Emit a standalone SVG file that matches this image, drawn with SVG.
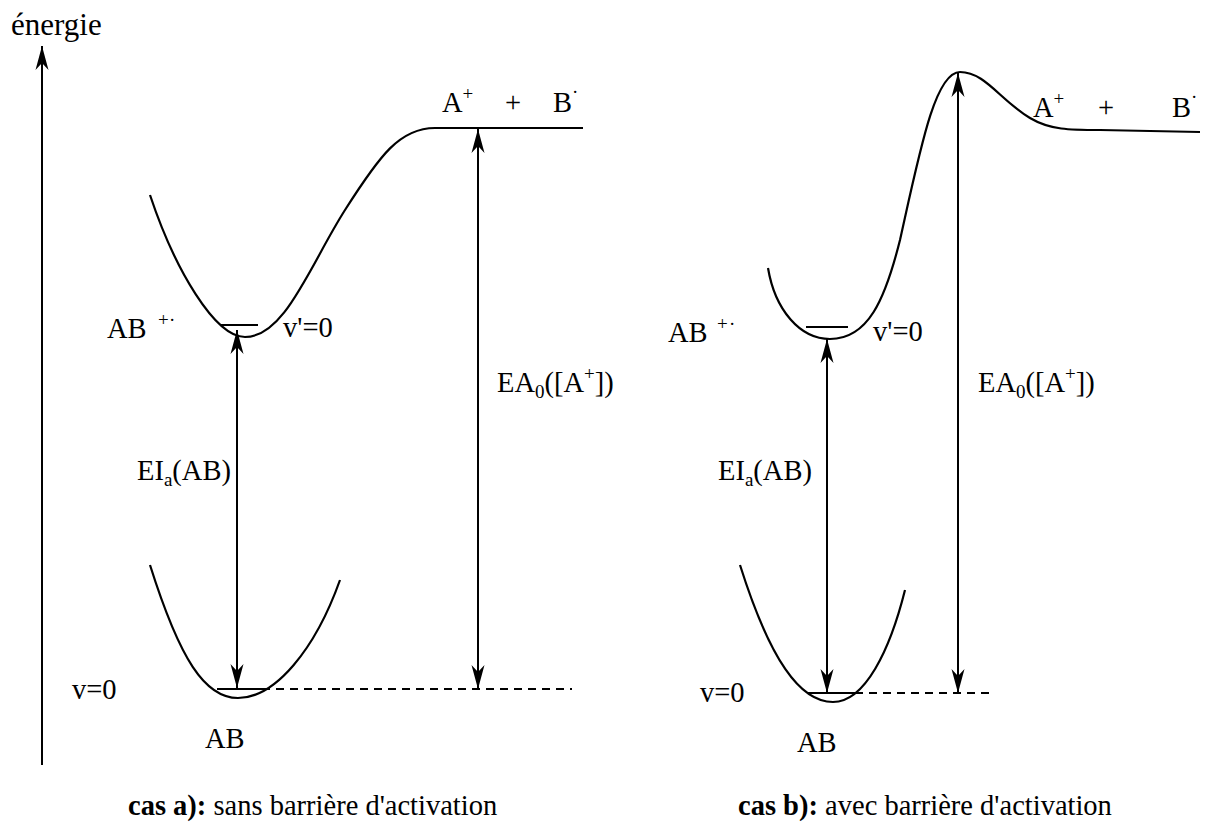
<svg xmlns="http://www.w3.org/2000/svg" width="1205" height="832" viewBox="0 0 1205 832">
<defs>
<marker id="ah" viewBox="-26 -8 28 16" markerWidth="28" markerHeight="16" refX="0" refY="0" orient="auto-start-reverse" markerUnits="userSpaceOnUse">
<path d="M0,0 L-24,-6.5 L-17,0 L-24,6.5 z" fill="#000"/>
</marker>
<style>
.t{font-family:'Liberation Serif','Times New Roman',serif;font-size:28.5px;fill:#000}
.sup{font-size:19px}
.c{fill:none;stroke:#000;stroke-width:2.2}
.lv{stroke:#000;stroke-width:2}
.ar{stroke:#000;stroke-width:2;fill:none}
.ds{stroke:#000;stroke-width:2;stroke-dasharray:8 6}
</style>
</defs>
<rect width="1205" height="832" fill="#fff"/>
<g id="axis">
<line class="ar" x1="42" y1="765" x2="42" y2="46" marker-end="url(#ah)"/>
<text class="t" x="11" y="35" style="font-size:31px">énergie</text>
</g>
<g id="case-a">
<path id="a-upper" class="c" d="M150,195 C175,270 215,337 245,337 C285,337 310,265 345,210 C380,155 400,128 435,128 L583,128"/>
<path id="a-lower" class="c" d="M150,565 C180,660 205,698 238,698 C275,698 315,650 340,580"/>
<line class="lv" x1="220" y1="325" x2="258" y2="325"/>
<line class="lv" x1="217" y1="689" x2="262" y2="689"/>
<text class="t" x="107" y="338">AB<tspan class="sup" x="158" dy="-12">+</tspan><tspan class="sup" x="169">·</tspan></text>
<text class="t" x="283" y="337">v'=0</text>
<text class="t" x="72" y="699">v=0</text>
<text class="t" x="205" y="748">AB</text>
<text class="t" x="442" y="112">A<tspan class="sup" dy="-12">+</tspan></text>
<text class="t" x="505" y="112">+</text>
<text class="t" x="553" y="112">B<tspan class="sup" dy="-14">·</tspan></text>
<text class="t" x="137" y="480">EI<tspan class="sup" dy="6">a</tspan><tspan dy="-6">(AB)</tspan></text>
<text class="t" x="497" y="392">EA<tspan class="sup" dy="6">0</tspan><tspan dy="-6">([A</tspan><tspan class="sup" dy="-12">+</tspan><tspan dy="12">])</tspan></text>
<text class="t" x="128" y="815"><tspan font-weight="bold">cas a):</tspan> sans barrière d'activation</text>
</g>
<g id="case-b">
<path id="b-upper" class="c" d="M768,268 C775,310 800,339 830,339 C868,339 885,300 900,240 C920,150 935,72 960,72 C985,72 1000,100 1030,118 C1050,130 1070,130 1100,130 L1200,132"/>
<path id="b-lower" class="c" d="M740,565 C770,660 800,702 833,702 C865,702 890,650 905,590"/>
<line class="lv" x1="806" y1="327" x2="848" y2="327"/>
<line class="lv" x1="808" y1="693" x2="855" y2="693"/>
<text class="t" x="668" y="342">AB<tspan class="sup" x="717" dy="-12">+</tspan><tspan class="sup" x="729">·</tspan></text>
<text class="t" x="873" y="341">v'=0</text>
<text class="t" x="700" y="702">v=0</text>
<text class="t" x="797" y="752">AB</text>
<text class="t" x="1033" y="117">A<tspan class="sup" dy="-12">+</tspan></text>
<text class="t" x="1098" y="117">+</text>
<text class="t" x="1172" y="117">B<tspan class="sup" dy="-14">·</tspan></text>
<text class="t" x="718" y="480">EI<tspan class="sup" dy="6">a</tspan><tspan dy="-6">(AB)</tspan></text>
<text class="t" x="978" y="392">EA<tspan class="sup" dy="6">0</tspan><tspan dy="-6">([A</tspan><tspan class="sup" dy="-12">+</tspan><tspan dy="12">])</tspan></text>
<text class="t" x="738" y="815"><tspan font-weight="bold">cas b):</tspan> avec barrière d'activation</text>
</g>
<g id="connectors">
<line class="ds" x1="262" y1="689" x2="572" y2="689"/>
<line class="ds" x1="855" y1="693" x2="995" y2="693"/>
<line class="ar" x1="237" y1="330" x2="237" y2="688" marker-start="url(#ah)" marker-end="url(#ah)"/>
<line class="ar" x1="478" y1="129" x2="478" y2="689" marker-start="url(#ah)" marker-end="url(#ah)"/>
<line class="ar" x1="827" y1="339" x2="827" y2="693" marker-start="url(#ah)" marker-end="url(#ah)"/>
<line class="ar" x1="958" y1="73" x2="958" y2="693" marker-start="url(#ah)" marker-end="url(#ah)"/>
</g>
</svg>
